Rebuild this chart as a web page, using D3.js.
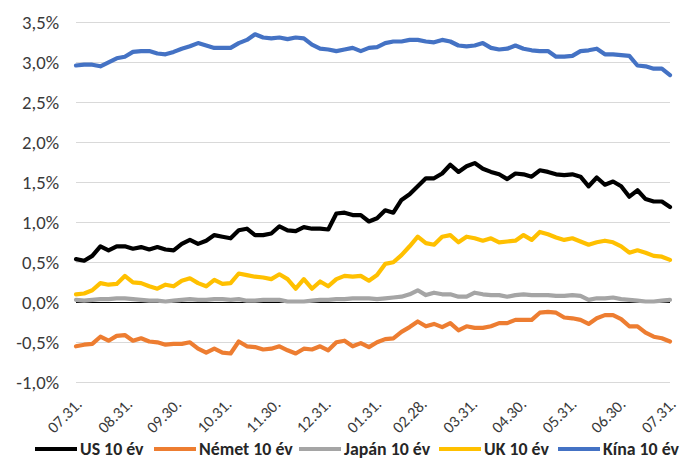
<!DOCTYPE html>
<html>
<head>
<meta charset="utf-8">
<script src="https://cdn.jsdelivr.net/npm/d3@7"></script>
<style>
  html, body { margin: 0; padding: 0; background: #fff; }
  svg { display: block; font-family: Carlito, Lato, "Noto Sans", sans-serif; }
</style>
</head>
<body>
<svg id="chart" width="694" height="459"></svg>
<script>
// ---- DATA ----
const startDate = "2020-07-31";
const stepDays = 5; // one sample every 5 days, 74 samples
const tickDates = ["2020-07-31","2020-08-31","2020-09-30","2020-10-31","2020-11-30","2020-12-31",
                   "2021-01-31","2021-02-28","2021-03-31","2021-04-30","2021-05-31","2021-06-30","2021-07-31"];
const tickLabels = ["07.31.","08.31.","09.30.","10.31.","11.30.","12.31.","01.31.","02.28.","03.31.","04.30.","05.31.","06.30.","07.31."];
const yTicks = [-1.0,-0.5,0,0.5,1.0,1.5,2.0,2.5,3.0,3.5];

const seriesNames = ["US 10 év","Német 10 év","Japán 10 év","UK 10 év","Kína 10 év"];
const seriesColors = ["#000000","#ED7D31","#A5A5A5","#FFC000","#4472C4"];

const us = [0.54,0.52,0.58,0.70,0.65,0.70,0.70,0.67,0.69,0.66,0.69,0.66,0.65,0.73,0.78,0.73,0.77,0.84,0.82,0.80,
            0.90,0.92,0.84,0.84,0.86,0.95,0.90,0.89,0.94,0.92,0.92,0.91,1.11,1.12,1.09,1.09,1.01,1.05,1.15,1.12,
            1.28,1.35,1.45,1.55,1.55,1.61,1.72,1.63,1.70,1.74,1.67,1.63,1.60,1.54,1.61,1.60,1.57,1.65,1.63,1.60,
            1.59,1.60,1.57,1.45,1.56,1.47,1.51,1.45,1.32,1.40,1.29,1.26,1.26,1.19];
const de = [-0.55,-0.53,-0.52,-0.43,-0.48,-0.42,-0.41,-0.48,-0.45,-0.49,-0.50,-0.53,-0.52,-0.52,-0.50,-0.58,-0.63,-0.58,-0.63,-0.64,
            -0.49,-0.55,-0.56,-0.59,-0.58,-0.55,-0.60,-0.64,-0.58,-0.59,-0.55,-0.60,-0.50,-0.48,-0.55,-0.51,-0.56,-0.50,-0.46,-0.45,
            -0.37,-0.31,-0.24,-0.30,-0.27,-0.31,-0.26,-0.35,-0.30,-0.32,-0.32,-0.30,-0.26,-0.26,-0.22,-0.22,-0.22,-0.13,-0.12,-0.13,
            -0.19,-0.20,-0.22,-0.27,-0.20,-0.16,-0.16,-0.21,-0.30,-0.30,-0.38,-0.43,-0.45,-0.49];
const jp = [0.03,0.02,0.03,0.04,0.04,0.05,0.05,0.04,0.03,0.02,0.02,0.01,0.02,0.03,0.04,0.03,0.03,0.04,0.04,0.03,
            0.04,0.02,0.02,0.03,0.03,0.03,0.01,0.01,0.01,0.02,0.03,0.03,0.04,0.04,0.05,0.05,0.05,0.04,0.05,0.06,
            0.07,0.10,0.15,0.09,0.12,0.10,0.10,0.07,0.07,0.12,0.10,0.09,0.09,0.07,0.09,0.10,0.09,0.09,0.09,0.08,
            0.08,0.09,0.08,0.03,0.05,0.05,0.06,0.04,0.03,0.02,0.01,0.01,0.02,0.03];
const uk = [0.10,0.11,0.15,0.24,0.22,0.23,0.33,0.25,0.24,0.20,0.17,0.22,0.20,0.27,0.30,0.24,0.20,0.28,0.23,0.24,
            0.36,0.34,0.32,0.31,0.29,0.35,0.29,0.17,0.29,0.17,0.26,0.20,0.29,0.33,0.32,0.33,0.27,0.34,0.48,0.50,
            0.59,0.70,0.82,0.74,0.72,0.82,0.84,0.75,0.82,0.80,0.77,0.80,0.75,0.76,0.77,0.84,0.78,0.88,0.85,0.81,
            0.78,0.80,0.76,0.72,0.75,0.77,0.75,0.70,0.62,0.65,0.62,0.58,0.57,0.53];
const cn = [2.96,2.97,2.97,2.95,3.00,3.05,3.07,3.13,3.14,3.14,3.11,3.10,3.13,3.17,3.20,3.24,3.21,3.18,3.18,3.18,
            3.24,3.28,3.35,3.31,3.30,3.31,3.29,3.31,3.30,3.22,3.17,3.16,3.14,3.16,3.18,3.14,3.18,3.19,3.24,3.26,
            3.26,3.28,3.28,3.26,3.25,3.28,3.26,3.21,3.20,3.21,3.24,3.18,3.16,3.17,3.21,3.17,3.15,3.14,3.14,3.07,
            3.07,3.08,3.14,3.15,3.17,3.10,3.10,3.09,3.08,2.96,2.95,2.92,2.92,2.84];
const seriesValues = [us, de, jp, uk, cn];

// ---- CHART ----
const svg = d3.select("#chart");
const parse = d3.timeParse("%Y-%m-%d");
const t0 = parse(startDate);
const dates = us.map((_, i) => d3.timeDay.offset(t0, i * stepDays));
const FONT = "Carlito, Lato, 'Noto Sans', sans-serif";

// fit a font size so that a sample string reaches a target width
function fitSize(str, target, weight) {
  const t = svg.append("text").attr("font-size", 20).attr("font-weight", weight || "normal")
    .style("font-family", FONT).text(str);
  const w = t.node().getComputedTextLength();
  t.remove();
  return Math.min(20, Math.max(12, 20 * target / w));
}
const ySize = fitSize("3,5%", 37);
const xSize = fitSize("07.31.", 41);
const lSize = fitSize("Kína 10 év", 76, "bold");

const x = d3.scaleTime().domain([parse(tickDates[0]), parse(tickDates[tickDates.length - 1])]).range([76, 670]);
const y = d3.scaleLinear().domain([-1, 3.5]).range([382.3, 22.3]);

const fmt = v => d3.format(".1f")(v).replace(".", ",").replace("−", "-") + "%";

// gridlines
svg.append("g").selectAll("line").data(yTicks.filter(v => v !== 0)).join("line")
  .attr("x1", x.range()[0]).attr("x2", x.range()[1])
  .attr("y1", d => Math.round(y(d)) + 0.5).attr("y2", d => Math.round(y(d)) + 0.5)
  .attr("stroke", "#d9d9d9").attr("stroke-width", 1);

// y axis labels
const yAxis = d3.axisLeft(y).tickValues(yTicks).tickFormat(fmt).tickSize(0).tickPadding(0);
const gy = svg.append("g").attr("transform", "translate(59,0)").call(yAxis);
gy.select(".domain").remove();
gy.selectAll("text").attr("font-size", ySize).attr("fill", "#3a3a3a").style("font-family", FONT);

// zero axis line
svg.append("line").attr("x1", x.range()[0]).attr("x2", x.range()[1])
  .attr("y1", Math.round(y(0)) + 0.5).attr("y2", Math.round(y(0)) + 0.5)
  .attr("stroke", "#000").attr("stroke-width", 1.2);

// x axis labels
const xAxis = d3.axisBottom(x).tickValues(tickDates.map(parse))
  .tickFormat((d, i) => tickLabels[i]).tickSize(0).tickPadding(0);
const gx = svg.append("g").call(xAxis);
gx.select(".domain").remove();
gx.selectAll(".tick").attr("transform", d => `translate(${x(d) + 7},405)`);
gx.selectAll("text").attr("font-size", xSize).attr("fill", "#3a3a3a")
  .attr("text-anchor", "end").attr("dy", 0).attr("y", 0).attr("x", 0)
  .attr("transform", "rotate(-45)").style("font-family", FONT);

// lines
const line = d3.line().x((d, i) => x(dates[i])).y(d => y(d)).curve(d3.curveLinear);
svg.append("g").selectAll("path").data(seriesValues).join("path")
  .attr("d", d => line(d))
  .attr("fill", "none")
  .attr("stroke", (d, i) => seriesColors[i])
  .attr("stroke-width", 4.2)
  .attr("stroke-linejoin", "round")
  .attr("stroke-linecap", "round");

// legend (entry positions as in the reference layout)
const legendX = [35, 154, 299, 439, 558];
const lg = svg.append("g").attr("transform", "translate(0,449)");
seriesNames.forEach((name, i) => {
  const lx = legendX[i];
  lg.append("line").attr("x1", lx).attr("x2", lx + 42).attr("y1", 0).attr("y2", 0)
    .attr("stroke", seriesColors[i]).attr("stroke-width", 4.2);
  lg.append("text").attr("x", lx + 45).attr("y", 0).attr("dy", "0.35em")
    .attr("font-size", lSize).attr("font-weight", "bold").attr("fill", "#262626")
    .style("font-family", FONT).text(name);
});
</script>
</body>
</html>
